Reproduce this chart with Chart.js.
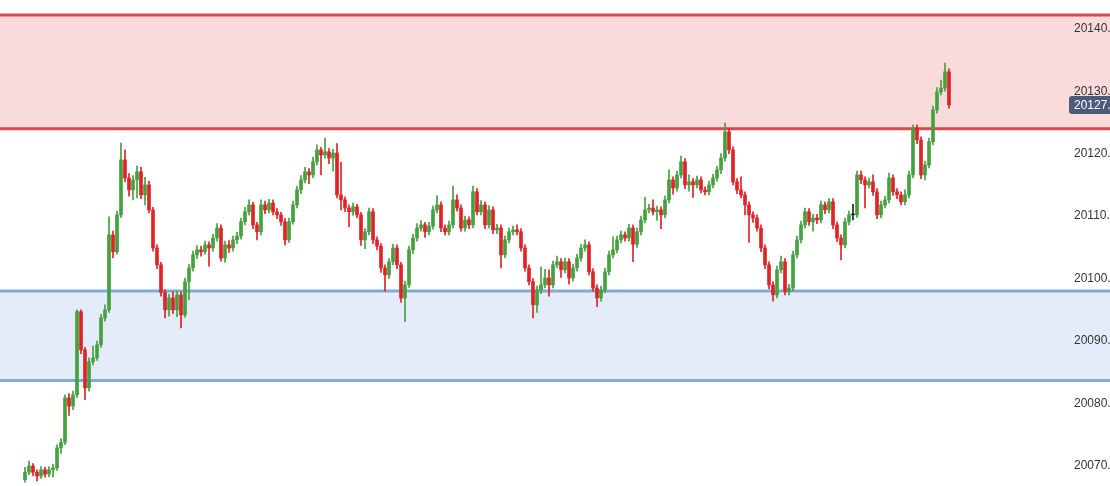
<!DOCTYPE html>
<html>
<head>
<meta charset="utf-8">
<script src="https://cdn.jsdelivr.net/npm/chart.js@4"></script>
<style>
  html, body { margin: 0; padding: 0; background: #fff; overflow: hidden; }
  #wrap { width: 1130px; height: 486px; position: relative; }
</style>
</head>
<body>
<div id="wrap"><canvas id="chart"></canvas></div>
<script>
// precio de apertura de la primera vela, despues cada vela abre en el cierre anterior
const firstOpen = 20067.8

const closes = [
  20069.0, 20070.0, 20069.0, 20068.4, 20069.4, 20068.7, 20069.4, 20069.7, 20072.9, 20073.8,
  20080.9, 20079.6, 20081.4, 20094.7, 20088.6, 20082.5, 20086.7, 20087.3, 20089.4, 20093.7,
  20095.0, 20107.0, 20104.3, 20110.2, 20119.0, 20116.1, 20114.2, 20115.8, 20117.1, 20113.4,
  20115.0, 20111.0, 20104.9, 20102.2, 20097.8, 20095.0, 20096.9, 20095.0, 20097.4, 20094.2,
  20099.5, 20101.7, 20103.8, 20104.6, 20104.3, 20105.4, 20104.9, 20106.5, 20108.1, 20103.3,
  20105.4, 20104.9, 20106.2, 20106.8, 20109.1, 20110.7, 20111.8, 20108.6, 20107.5, 20111.8,
  20111.0, 20112.1, 20110.7, 20110.2, 20109.1, 20106.2, 20109.1, 20111.8, 20114.2, 20115.8,
  20117.1, 20116.6, 20118.7, 20120.6, 20119.8, 20120.3, 20119.3, 20120.1, 20113.4, 20112.6,
  20111.3, 20110.7, 20111.5, 20110.2, 20106.2, 20107.5, 20110.7, 20106.2, 20105.2, 20101.7,
  20100.6, 20102.7, 20104.9, 20102.2, 20096.9, 20099.0, 20104.6, 20106.5, 20108.1, 20108.6,
  20107.5, 20108.4, 20111.0, 20111.8, 20108.1, 20107.5, 20108.6, 20112.6, 20111.3, 20108.1,
  20109.4, 20108.6, 20113.9, 20110.7, 20111.8, 20108.6, 20111.0, 20107.8, 20108.1, 20103.8,
  20106.2, 20107.5, 20107.8, 20107.5, 20104.9, 20101.7, 20099.5, 20095.8, 20098.2, 20099.0,
  20100.1, 20099.0, 20102.2, 20102.7, 20101.4, 20102.7, 20100.1, 20101.7, 20103.3, 20104.9,
  20105.4, 20101.1, 20098.5, 20096.9, 20098.2, 20101.1, 20103.8, 20104.6, 20106.2, 20107.0,
  20106.5, 20108.1, 20105.5, 20107.5, 20109.4, 20111.0, 20111.3, 20110.7, 20111.0, 20110.2,
  20112.6, 20115.8, 20114.5, 20116.6, 20118.7, 20115.0, 20115.5, 20115.0, 20115.8, 20114.2,
  20113.9, 20115.0, 20116.1, 20117.4, 20119.3, 20123.5, 20120.6, 20115.5, 20114.2, 20113.4,
  20111.8, 20110.2, 20109.7, 20108.1, 20104.9, 20102.2, 20099.0, 20097.4, 20101.4, 20102.7,
  20097.9, 20098.5, 20103.8, 20106.2, 20108.6, 20110.7, 20109.1, 20109.7, 20109.4, 20111.8,
  20111.0, 20112.3, 20108.6, 20106.5, 20105.4, 20109.1, 20110.2, 20110.2, 20116.6, 20115.8,
  20115.0, 20115.5, 20113.9, 20110.2, 20111.8, 20112.6, 20116.1, 20113.9, 20113.4, 20112.3,
  20113.4, 20116.6, 20124.1, 20122.2, 20116.6, 20118.2, 20121.9, 20127.0, 20129.9, 20130.5,
  20133.1, 20127.8
]

const highs = [
  20069.8, 20070.8, 20070.4, 20069.4, 20069.9, 20069.8, 20069.9, 20070.3, 20073.4, 20074.4,
  20081.4, 20081.6, 20082.0, 20095.0, 20095.0, 20089.0, 20087.3, 20089.2, 20090.0, 20094.3,
  20095.8, 20109.9, 20107.6, 20110.8, 20121.7, 20120.6, 20116.8, 20116.5, 20118.0, 20117.8,
  20116.2, 20115.6, 20111.4, 20105.4, 20102.6, 20098.2, 20097.5, 20097.9, 20098.0, 20097.9,
  20100.1, 20102.3, 20104.4, 20105.3, 20105.2, 20106.0, 20105.9, 20107.1, 20108.8, 20108.6,
  20106.0, 20106.1, 20106.8, 20107.4, 20109.7, 20111.4, 20112.6, 20112.2, 20109.0, 20112.6,
  20112.4, 20112.7, 20112.6, 20111.2, 20110.6, 20109.6, 20109.7, 20112.4, 20114.8, 20116.5,
  20117.8, 20117.6, 20119.4, 20121.4, 20121.0, 20122.5, 20120.8, 20120.7, 20121.6, 20118.6,
  20113.1, 20111.8, 20112.1, 20111.9, 20110.6, 20108.0, 20111.3, 20111.2, 20106.7, 20105.6,
  20102.2, 20103.2, 20105.5, 20105.4, 20102.6, 20099.6, 20105.2, 20107.1, 20108.8, 20109.3,
  20109.0, 20109.0, 20111.6, 20113.3, 20112.3, 20108.6, 20109.2, 20114.8, 20113.4, 20111.8,
  20110.0, 20109.9, 20114.8, 20114.4, 20112.5, 20112.3, 20111.7, 20111.5, 20108.7, 20108.6,
  20106.8, 20108.1, 20108.4, 20108.6, 20108.0, 20105.4, 20102.2, 20100.0, 20098.8, 20101.9,
  20101.5, 20101.4, 20102.8, 20103.6, 20103.2, 20103.3, 20103.2, 20102.3, 20103.9, 20105.5,
  20106.2, 20105.9, 20101.6, 20099.0, 20098.8, 20101.7, 20104.4, 20106.7, 20106.8, 20107.6,
  20107.5, 20108.7, 20108.6, 20108.1, 20110.0, 20113.0, 20111.9, 20112.6, 20111.6, 20111.5,
  20113.2, 20117.4, 20116.3, 20117.2, 20119.6, 20119.2, 20116.6, 20116.0, 20116.4, 20116.3,
  20114.7, 20115.6, 20116.7, 20118.0, 20120.0, 20124.9, 20124.0, 20121.1, 20116.0, 20116.3,
  20113.9, 20112.3, 20110.7, 20110.2, 20108.6, 20105.4, 20102.7, 20099.5, 20102.0, 20103.6,
  20103.2, 20099.1, 20104.4, 20106.8, 20109.2, 20111.3, 20111.2, 20110.3, 20110.3, 20112.4,
  20112.3, 20112.8, 20112.8, 20109.1, 20107.0, 20109.7, 20110.8, 20111.9, 20117.2, 20117.2,
  20116.3, 20116.1, 20116.6, 20114.4, 20112.4, 20113.2, 20116.9, 20116.6, 20114.4, 20113.9,
  20114.2, 20117.2, 20124.6, 20124.6, 20122.7, 20118.8, 20122.5, 20127.6, 20130.6, 20131.8,
  20134.5, 20133.6
]

const lows = [
  20067.4, 20068.6, 20068.4, 20067.6, 20068.0, 20068.2, 20068.3, 20068.2, 20069.3, 20072.0,
  20073.4, 20078.1, 20079.0, 20081.0, 20088.0, 20080.6, 20082.0, 20086.2, 20086.9, 20089.0,
  20093.2, 20094.6, 20103.3, 20103.9, 20109.8, 20115.5, 20113.2, 20112.6, 20112.9, 20112.8,
  20111.8, 20110.5, 20104.4, 20101.6, 20097.2, 20093.7, 20094.0, 20094.4, 20093.9, 20092.1,
  20093.8, 20096.6, 20101.2, 20103.2, 20103.6, 20103.9, 20102.0, 20104.4, 20106.0, 20102.8,
  20102.6, 20104.2, 20104.4, 20105.6, 20106.3, 20108.6, 20110.2, 20108.0, 20106.2, 20107.0,
  20110.4, 20110.5, 20110.2, 20109.6, 20108.5, 20105.4, 20105.8, 20108.7, 20111.3, 20113.6,
  20115.3, 20115.2, 20116.1, 20118.2, 20116.6, 20119.3, 20118.4, 20117.2, 20112.9, 20111.0,
  20110.7, 20108.3, 20110.1, 20109.7, 20105.3, 20104.8, 20107.0, 20105.6, 20104.6, 20101.0,
  20098.0, 20100.0, 20102.2, 20101.6, 20096.2, 20093.1, 20098.6, 20104.0, 20106.0, 20107.6,
  20106.6, 20107.0, 20107.9, 20110.5, 20107.5, 20107.0, 20107.0, 20108.1, 20110.8, 20107.6,
  20107.6, 20108.0, 20108.1, 20110.2, 20110.2, 20108.0, 20108.1, 20107.2, 20107.2, 20101.7,
  20103.3, 20105.7, 20107.0, 20107.0, 20104.4, 20101.2, 20099.0, 20093.7, 20094.6, 20097.6,
  20098.5, 20097.2, 20098.5, 20101.7, 20100.2, 20100.9, 20099.1, 20099.6, 20101.2, 20102.8,
  20104.4, 20100.6, 20098.0, 20095.5, 20096.4, 20097.7, 20100.6, 20103.3, 20104.1, 20105.7,
  20106.0, 20106.0, 20102.7, 20105.0, 20107.0, 20108.9, 20110.5, 20110.2, 20109.3, 20108.0,
  20109.7, 20112.1, 20113.5, 20114.0, 20116.1, 20114.4, 20114.0, 20113.0, 20114.5, 20113.7,
  20113.4, 20113.4, 20114.5, 20115.6, 20116.8, 20118.8, 20120.0, 20115.0, 20113.6, 20112.9,
  20110.2, 20105.8, 20109.0, 20107.6, 20104.3, 20101.6, 20098.4, 20096.4, 20096.9, 20100.9,
  20097.4, 20097.4, 20098.0, 20103.3, 20105.7, 20108.1, 20108.5, 20107.6, 20108.8, 20108.9,
  20110.4, 20110.5, 20108.0, 20105.9, 20103.0, 20104.9, 20108.6, 20109.4, 20109.8, 20115.2,
  20111.3, 20114.5, 20113.3, 20109.6, 20109.7, 20111.3, 20112.1, 20113.3, 20112.8, 20111.8,
  20111.8, 20112.9, 20116.1, 20121.6, 20116.0, 20115.8, 20117.7, 20121.4, 20126.5, 20129.4,
  20130.0, 20127.3
]

// zonas de resistencia y soporte
const resistanceZone = [20124.0, 20142.2]
const supportZone = [20083.7, 20098.0]
const tickValues = [20070, 20080, 20090, 20100, 20110, 20120, 20130, 20140]
const yRange = [20066.8, 20144.6]

const UP = '#45a03f'
const DOWN = '#df2326'
const FLAT = '#222222'

const opens = closes.map((c, i) => i === 0 ? firstOpen : closes[i - 1])
const colors = closes.map((c, i) => c > opens[i] ? UP : (c < opens[i] ? DOWN : FLAT))

// se dibuja antes que los ejes para que las etiquetas queden encima
const zonesPlugin = {
    id: 'zones',
    beforeDraw(chart) {
        const ctx = chart.ctx
        const y = chart.scales.y
        const w = chart.width
        const drawZone = (zone, fill, line) => {
            const top = y.getPixelForValue(zone[1])
            const bottom = y.getPixelForValue(zone[0])
            ctx.save()
            ctx.fillStyle = fill
            ctx.fillRect(0, top, w, bottom - top)
            ctx.strokeStyle = line
            ctx.lineWidth = 3
            ctx.beginPath()
            ctx.moveTo(0, top); ctx.lineTo(w, top)
            ctx.moveTo(0, bottom); ctx.lineTo(w, bottom)
            ctx.stroke()
            ctx.restore()
        }
        drawZone(resistanceZone, '#fadbdc', '#e0474c')
        drawZone(supportZone, '#e3ecf8', '#80aad8')
    }
}

// etiqueta del ultimo precio sobre el eje
const lastPricePlugin = {
    id: 'lastPrice',
    afterDraw(chart) {
        const ctx = chart.ctx
        const y = chart.scales.y
        const last = closes[closes.length - 1]
        const py = y.getPixelForValue(last)
        const x0 = chart.chartArea.right - 1
        ctx.save()
        ctx.fillStyle = '#4b5b79'
        ctx.beginPath()
        ctx.roundRect(x0, py - 9, 80, 18, 3)
        ctx.fill()
        ctx.fillStyle = '#ffffff'
        ctx.font = '12px "Liberation Sans", Arial, sans-serif'
        ctx.textBaseline = 'middle'
        ctx.fillText(last.toFixed(1), x0 + 5, py + 0.5)
        ctx.restore()
    }
}

const bodies = closes.map((c, i) => ({ x: i, y: [opens[i], c] }))
const wicks = closes.map((c, i) => ({ x: i, y: [lows[i], highs[i]] }))

new Chart('chart', {
    type: 'bar',
    data: {
        datasets: [
            {
                data: bodies,
                backgroundColor: colors,
                barThickness: 3,
                minBarLength: 1,
                grouped: false,
                order: 1
            },
            {
                data: wicks,
                backgroundColor: colors,
                barThickness: 1,
                grouped: false,
                order: 2
            }
        ]
    },
    options: {
        responsive: true,
        maintainAspectRatio: false,
        animation: false,
        layout: { padding: 0 },
        plugins: {
            legend: { display: false },
            tooltip: { enabled: false }
        },
        scales: {
            x: {
                type: 'linear',
                display: false,
                min: -6.25,
                max: 261.25,
                offset: false
            },
            y: {
                position: 'right',
                min: yRange[0],
                max: yRange[1],
                afterBuildTicks: axis => { axis.ticks = tickValues.map(v => ({ value: v })) },
                afterFit: axis => {
                    axis.width = 60
                    axis.paddingTop = 0
                    axis.paddingBottom = 0
                },
                grid: { display: false, drawTicks: false },
                border: { display: false },
                ticks: {
                    padding: 4,
                    autoSkip: false,
                    color: '#333333',
                    font: { family: '"Liberation Sans", Arial, sans-serif', size: 12 },
                    callback: v => v.toFixed(1)
                }
            }
        }
    },
    plugins: [zonesPlugin, lastPricePlugin]
})
</script>
</body>
</html>
